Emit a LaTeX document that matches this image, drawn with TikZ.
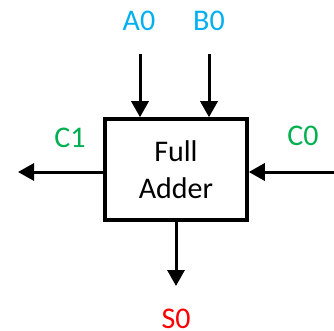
\documentclass[tikz,border=0pt]{standalone}
\usepackage{fontspec}
\setmainfont{Carlito}
\usetikzlibrary{arrows.meta}
\definecolor{inblue}{HTML}{00B0F0}
\definecolor{carrygreen}{HTML}{00B050}
\definecolor{sumred}{HTML}{FF0000}
\begin{document}
\begin{tikzpicture}[x=1pt,y=-1pt,
  wire/.style={line width=3pt,-{Triangle[length=16pt,width=17pt]}},
  lbl/.style={font=\fontsize{30}{36}\selectfont,inner sep=0pt}]
\useasboundingbox (0,0) rectangle (334,331);
% adder block
\node[draw,line width=3.5pt,minimum width=142pt,minimum height=101pt,inner sep=0pt,
      align=center,font=\fontsize{30}{37}\selectfont] (fa) at (176,169.5) {Full\\Adder};
% wire end points
\coordinate (ain) at (140,54);
\coordinate (bin) at (209,54);
\coordinate (cin) at (334,172);
\coordinate (cout) at (18,172);
\coordinate (sout) at (176,286);
% signals
\draw[wire] (ain) -- (ain |- fa.north);
\draw[wire] (bin) -- (bin |- fa.north);
\draw[wire] (cin) -- (cin -| fa.east);
\draw[wire] (cin -| fa.west) -- (cout);
\draw[wire] (fa.south) -- (sout);
% labels
\node[lbl,text=inblue] (la) at (139,21) {A0};
\node[lbl,text=inblue] (lb) at (209,21) {B0};
\node[lbl,text=carrygreen] (lc1) at (70,138) {C1};
\node[lbl,text=carrygreen] (lc0) at (303,136) {C0};
\node[lbl,text=sumred] (ls) at (176,319) {S0};
\end{tikzpicture}
\end{document}
